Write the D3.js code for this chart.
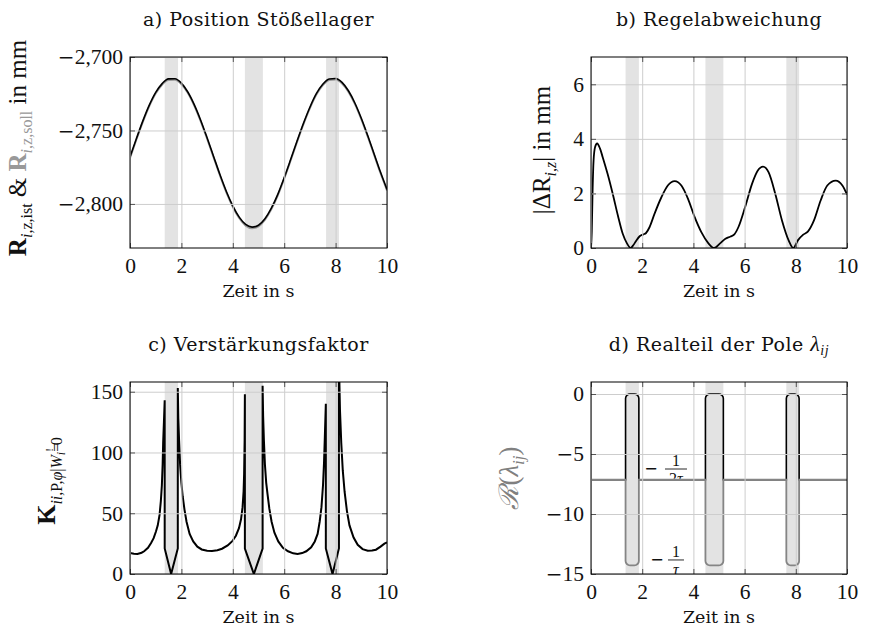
<!DOCTYPE html>
<html>
<head>
<meta charset="utf-8">
<script src="https://cdn.jsdelivr.net/npm/d3@7"></script>
<style>
  body { margin: 0; background: #fff; }
  text { fill: #111; }
</style>
</head>
<body>
<svg></svg>
<script>
// shared time axis and the shaded intervals
const timeTicks = [0, 2, 4, 6, 8, 10];
const bandStart = [1.35, 4.47, 7.63];
const bandEnd = [1.87, 5.17, 8.13];

// a) Position Stößellager (mm)
const posTime = [0, 0.25, 0.5, 0.75, 1, 1.25, 1.5, 1.75, 2, 2.25, 2.5, 2.75, 3, 3.25, 3.5, 3.75, 4, 4.25, 4.5, 4.75,
  5, 5.25, 5.5, 5.75, 6, 6.25, 6.5, 6.75, 7, 7.25, 7.5, 7.75, 8, 8.25, 8.5, 8.75, 9, 9.25, 9.5, 9.75, 10];
const posIst = [-2.7681, -2.7555, -2.7435, -2.7328, -2.7241, -2.7181, -2.7149, -2.7148, -2.7178, -2.7238, -2.7324,
  -2.7430, -2.7550, -2.7675, -2.7800, -2.7915, -2.8013, -2.8090, -2.8140, -2.8158, -2.8145, -2.8101, -2.8029,
  -2.7935, -2.7821, -2.7698, -2.7572, -2.7451, -2.7342, -2.7250, -2.7186, -2.7150, -2.7146, -2.7173, -2.7230,
  -2.7313, -2.7417, -2.7535, -2.7660, -2.7785, -2.7901];
const posSoll = [-2.7689, -2.7563, -2.7443, -2.7336, -2.7249, -2.7189, -2.7157, -2.7156, -2.7186, -2.7246, -2.7332,
  -2.7438, -2.7558, -2.7683, -2.7808, -2.7923, -2.8021, -2.8098, -2.8148, -2.8166, -2.8153, -2.8109, -2.8037,
  -2.7943, -2.7829, -2.7706, -2.7580, -2.7459, -2.7350, -2.7258, -2.7194, -2.7158, -2.7154, -2.7181, -2.7238,
  -2.7321, -2.7425, -2.7543, -2.7668, -2.7793, -2.7909];
const posTicks = [-2.8, -2.75, -2.7];

// b) Regelabweichung |dR| (mm)
const errTime = [0, 0.03, 0.06, 0.1, 0.16, 0.24, 0.35, 0.46, 0.65, 0.85, 1.05, 1.24, 1.41, 1.55, 1.65, 1.76, 1.9,
  2.05, 2.15, 2.29, 2.48, 2.75, 3.0, 3.27, 3.53, 3.79, 4.05, 4.31, 4.58, 4.81, 5.03, 5.25, 5.45, 5.6, 5.76, 6.02,
  6.29, 6.51, 6.72, 6.94, 7.2, 7.46, 7.72, 7.9, 8.08, 8.29, 8.47, 8.71, 8.97, 9.23, 9.56, 9.82, 10];
const errValue = [0, 0.6, 2.0, 3.2, 3.7, 3.83, 3.65, 3.32, 2.71, 1.98, 1.19, 0.52, 0.16, 0, 0.1, 0.26, 0.43,
  0.5, 0.55, 0.77, 1.25, 1.86, 2.29, 2.45, 2.29, 1.8, 1.13, 0.58, 0.18, 0, 0.16, 0.34, 0.42, 0.5, 0.77, 1.5,
  2.35, 2.83, 2.98, 2.77, 1.98, 1.01, 0.28, 0, 0.28, 0.49, 0.6, 1.01, 1.74, 2.29, 2.47, 2.29, 1.96];
const errTicks = [0, 2, 4, 6];

// c) Verstärkungsfaktor
const gainTime = [0, 0.15, 0.29, 0.45, 0.55, 0.7, 0.82, 0.92, 1.01, 1.08, 1.15, 1.2, 1.24, 1.27, 1.29, 1.32, 1.35,
  1.35, 1.6, 1.86, 1.86, 1.88, 1.91, 1.95, 2.0, 2.05, 2.12, 2.2, 2.32, 2.46, 2.62, 2.79, 3.0, 3.19, 3.4, 3.58,
  3.8, 3.98, 4.12, 4.24, 4.32, 4.38, 4.42, 4.44, 4.46, 4.47, 4.47, 4.82, 5.16, 5.16, 5.18, 5.21, 5.25, 5.3,
  5.35, 5.42, 5.51, 5.62, 5.77, 5.95, 6.15, 6.35, 6.52, 6.7, 6.86, 7.05, 7.19, 7.3, 7.38, 7.45, 7.51, 7.55,
  7.58, 7.62, 7.62, 7.88, 8.13, 8.13, 8.17, 8.22, 8.28, 8.35, 8.44, 8.54, 8.7, 8.86, 9.05, 9.25, 9.42, 9.57,
  9.75, 9.9, 10];
const gainValue = [17.3, 16.6, 16.5, 17.5, 18.7, 21.5, 25.5, 29.5, 35, 40, 48.6, 60, 73, 90, 108, 125, 143,
  21, 0, 21, 153, 128, 110, 90, 75, 64, 53, 43, 33, 26.8, 22.5, 20.2, 19.2, 19.0, 19.5, 20.8,
  23.5, 27, 31.5, 37.7, 45, 55, 68, 82, 110, 148, 21, 0, 21, 155, 130, 110, 90, 75,
  66, 54, 43, 34, 26.8, 21.5, 18.7, 17, 16.5, 17.2, 18.7, 22, 26.8, 33, 43, 55, 73, 92,
  112, 140, 21, 0, 21, 175, 135, 108, 85, 67.7, 52, 40, 30, 24, 20.5, 19.2, 19.3, 20,
  22.5, 25, 26];
const gainTicks = [0, 50, 100, 150];

// d) Realteil der Pole
const poleTime = [0,
  1.35, 1.35, 1.363, 1.402, 1.459, 1.526, 1.694, 1.761, 1.818, 1.857, 1.87, 1.87,
  4.47, 4.47, 4.483, 4.522, 4.579, 4.646, 4.994, 5.061, 5.118, 5.157, 5.17, 5.17,
  7.63, 7.63, 7.643, 7.682, 7.739, 7.806, 7.954, 8.021, 8.078, 8.117, 8.13, 8.13,
  10];
const poleUpper = [-7.14,
  -7.14, -0.375, -0.231, -0.11, -0.029, 0, 0, -0.029, -0.11, -0.231, -0.375, -7.14,
  -7.14, -0.375, -0.231, -0.11, -0.029, 0, 0, -0.029, -0.11, -0.231, -0.375, -7.14,
  -7.14, -0.375, -0.231, -0.11, -0.029, 0, 0, -0.029, -0.11, -0.231, -0.375, -7.14,
  -7.14];
const poleLower = [-7.14,
  -7.14, -13.905, -14.049, -14.17, -14.251, -14.28, -14.28, -14.251, -14.17, -14.049, -13.905, -7.14,
  -7.14, -13.905, -14.049, -14.17, -14.251, -14.28, -14.28, -14.251, -14.17, -14.049, -13.905, -7.14,
  -7.14, -13.905, -14.049, -14.17, -14.251, -14.28, -14.28, -14.251, -14.17, -14.049, -13.905, -7.14,
  -7.14];
const poleTicks = [-15, -10, -5, 0];

const width = 870;
const height = 638;
const serif = "'DejaVu Serif', serif";
const mathFont = "'Liberation Serif', serif";

let svg = d3.select('svg').attr('width', width).attr('height', height);
let de = d3.formatLocale({ decimal: ',', thousands: '.', grouping: [3], currency: ['', ' €'], minus: '\u2212' });

let makePanel = (name, box, yDomain) => {
  let x = d3.scaleLinear().domain([0, 10]).range([box.left, box.right]);
  let y = d3.scaleLinear().domain(yDomain).range([box.bottom, box.top]);
  svg.append('clipPath').attr('id', 'clip-' + name)
    .append('rect')
    .attr('x', box.left).attr('y', box.top)
    .attr('width', box.right - box.left).attr('height', box.bottom - box.top);
  let g = svg.append('g');
  let plot = g.append('g').attr('clip-path', 'url(#clip-' + name + ')');
  return { x, y, box, g, plot };
}

let drawBackground = (p, yTicks) => {
  let b = p.box;
  p.plot.selectAll('rect.band')
    .data(bandStart)
    .enter()
    .append('rect')
    .attr('class', 'band')
    .attr('x', (d) => p.x(d))
    .attr('y', b.top)
    .attr('width', (d, i) => p.x(bandEnd[i]) - p.x(d))
    .attr('height', b.bottom - b.top)
    .attr('fill', '#e3e3e3');

  let gx = p.g.append('g')
    .attr('transform', 'translate(0,' + b.bottom + ')')
    .call(d3.axisBottom(p.x).tickValues(timeTicks).tickSize(-(b.bottom - b.top)).tickFormat(''));
  let gy = p.g.append('g')
    .attr('transform', 'translate(' + b.left + ',0)')
    .call(d3.axisLeft(p.y).tickValues(yTicks).tickSize(-(b.right - b.left)).tickFormat(''));
  [gx, gy].forEach(a => {
    a.select('.domain').remove();
    a.selectAll('line').attr('stroke', '#cdcdcd').attr('stroke-width', 1);
  });
}

let drawFrame = (p, yTicks, fmt) => {
  let b = p.box;
  let inner = [
    [d3.axisBottom(p.x).tickValues(timeTicks), 0, b.bottom],
    [d3.axisTop(p.x).tickValues(timeTicks), 0, b.top],
    [d3.axisLeft(p.y).tickValues(yTicks), b.left, 0],
    [d3.axisRight(p.y).tickValues(yTicks), b.right, 0]
  ];
  inner.forEach(([axis, tx, ty]) => {
    let a = p.g.append('g')
      .attr('transform', 'translate(' + tx + ',' + ty + ')')
      .call(axis.tickSize(-5).tickFormat(''));
    a.select('.domain').remove();
    a.selectAll('line').attr('stroke', '#555').attr('stroke-width', 1);
  });

  p.g.append('rect')
    .attr('x', b.left).attr('y', b.top)
    .attr('width', b.right - b.left).attr('height', b.bottom - b.top)
    .attr('fill', 'none').attr('stroke', '#000').attr('stroke-width', 1);

  let xl = p.g.append('g')
    .attr('transform', 'translate(0,' + b.bottom + ')')
    .call(d3.axisBottom(p.x).tickValues(timeTicks).tickSize(0).tickPadding(10));
  let yl = p.g.append('g')
    .attr('transform', 'translate(' + b.left + ',0)')
    .call(d3.axisLeft(p.y).tickValues(yTicks).tickSize(0).tickPadding(7).tickFormat(fmt));
  [xl, yl].forEach(a => {
    a.select('.domain').remove();
    a.selectAll('text')
      .attr('font-family', mathFont)
      .attr('font-size', 21.5)
      .attr('fill', '#111');
  });
  // the TeX minus is long, take it from a font with a wide one
  yl.selectAll('text').each(function () {
    let s = d3.select(this).text();
    if (s.startsWith('\u2212')) {
      d3.select(this).text(null);
      d3.select(this).append('tspan').attr('font-family', "'DejaVu Sans'").attr('font-size', 20).text('\u2212');
      d3.select(this).append('tspan').text(s.slice(1));
    }
  });

  p.g.append('text')
    .attr('x', (b.left + b.right) / 2)
    .attr('y', b.bottom + 49)
    .attr('text-anchor', 'middle')
    .attr('font-family', serif)
    .attr('font-size', 17.5)
    .text('Zeit in s');
}

let addTitle = (p, parts) => {
  let t = p.g.append('text')
    .attr('x', (p.box.left + p.box.right) / 2)
    .attr('y', p.box.top - 31)
    .attr('text-anchor', 'middle')
    .attr('font-family', serif)
    .attr('font-size', 19)
    .attr('letter-spacing', 0.5);
  parts.forEach(s => {
    let ts = t.append('tspan').text(s.text);
    if (s.sub) ts.attr('font-size', 14).attr('dy', 4).attr('font-style', 'italic').attr('font-family', mathFont);
    if (s.italic) ts.attr('font-style', 'italic').attr('font-family', mathFont).attr('font-size', 22);
  });
}

let addYLabel = (x, y, size, parts) => {
  let t = svg.append('text')
    .attr('transform', 'translate(' + x + ',' + y + ') rotate(-90)')
    .attr('text-anchor', 'middle')
    .attr('font-family', mathFont)
    .attr('font-size', size);
  parts.forEach(s => {
    let ts = t.append('tspan').text(s.text);
    if (s.size) ts.attr('font-size', s.size);
    if (s.dy) ts.attr('dy', s.dy);
    if (s.dx) ts.attr('dx', s.dx);
    if (s.bold) ts.attr('font-weight', 'bold');
    if (s.italic) ts.attr('font-style', 'italic');
    if (s.color) ts.attr('fill', s.color);
  });
}

// panel a
let pa = makePanel('a', { left: 130, right: 387, top: 57, bottom: 248 }, [-2.83, -2.7]);
drawBackground(pa, posTicks);
let lineA = (vals) => d3.line()
  .x((d, i) => pa.x(posTime[i]))
  .y((d) => pa.y(d))
  .curve(d3.curveMonotoneX)(vals);
pa.plot.append('path').attr('d', lineA(posSoll)).attr('fill', 'none').attr('stroke', '#999').attr('stroke-width', 1.8);
pa.plot.append('path').attr('d', lineA(posIst)).attr('fill', 'none').attr('stroke', '#000').attr('stroke-width', 1.6);
drawFrame(pa, posTicks, de.format('.3f'));
addTitle(pa, [{ text: 'a) Position Stößellager' }]);
addYLabel(26, 148, 25, [
  { text: 'R', bold: true },
  { text: 'i', size: 16, dy: 6, italic: true },
  { text: ',z,ist', size: 16 },
  { text: ' & ', dy: -6 },
  { text: 'R', bold: true, color: '#999' },
  { text: 'i', size: 16, dy: 6, italic: true, color: '#999' },
  { text: ',z,soll', size: 16, color: '#999' },
  { text: ' in mm', dy: -6 }
]);

// panel b
let pb = makePanel('b', { left: 591, right: 847, top: 57, bottom: 248 }, [0, 7]);
drawBackground(pb, errTicks);
pb.plot.append('path')
  .attr('d', d3.line()
    .x((d, i) => pb.x(errTime[i]))
    .y((d) => pb.y(d))
    .curve(d3.curveMonotoneX)(errValue))
  .attr('fill', 'none').attr('stroke', '#000').attr('stroke-width', 1.8);
drawFrame(pb, errTicks, de.format('d'));
addTitle(pb, [{ text: 'b) Regelabweichung' }]);
addYLabel(550, 150, 25, [
  { text: '|ΔR' },
  { text: 'i,z', size: 16, dy: 6, italic: true },
  { text: '| in mm', dy: -6 }
]);

// panel c
let pc = makePanel('c', { left: 130, right: 387, top: 382, bottom: 574 }, [0, 158]);
drawBackground(pc, gainTicks);
pc.plot.append('path')
  .attr('d', d3.line()
    .x((d, i) => pc.x(gainTime[i]))
    .y((d) => pc.y(d))(gainValue))
  .attr('fill', 'none').attr('stroke', '#000').attr('stroke-width', 2).attr('stroke-linejoin', 'miter');
drawFrame(pc, gainTicks, de.format('d'));
addTitle(pc, [{ text: 'c) Verstärkungsfaktor' }]);
addYLabel(55, 481, 26, [
  { text: 'K', bold: true },
  { text: 'ii', size: 16, dy: 7, italic: true },
  { text: ',P,', size: 16 },
  { text: 'φ', size: 16, italic: true },
  { text: '|', size: 16 },
  { text: 'W', size: 16, italic: true },
  { text: 'i', size: 12, dy: 3, italic: true },
  { text: '=', size: 16, dy: -3 },
  { text: '!', size: 11, dx: -9, dy: -9 },
  { text: '0', size: 16, dx: 3, dy: 9 }
]);

// panel d
let pd = makePanel('d', { left: 591, right: 847, top: 382, bottom: 574 }, [-15, 1]);
drawBackground(pd, poleTicks);
pd.plot.append('path')
  .attr('d', d3.area()
    .x((d, i) => pd.x(poleTime[i]))
    .y0((d, i) => pd.y(poleLower[i]))
    .y1((d) => pd.y(d))(poleUpper))
  .attr('fill', '#e3e3e3');

// fraction labels -1/(2tau) and -1/tau
let frac = (tx, ty, num, den, half, minusOff, clipBelow) => {
  let fx = pd.x(tx), fy = pd.y(ty);
  let fg = pd.plot.append('g').attr('font-family', mathFont).attr('font-size', 16);
  fg.append('text').attr('x', fx + minusOff).attr('y', fy + 5).attr('text-anchor', 'middle')
    .attr('font-family', "'DejaVu Sans'").attr('font-size', 16).text('\u2212');
  fg.append('text').attr('x', fx).attr('y', fy - 3).attr('text-anchor', 'middle').text(num);
  fg.append('line').attr('x1', fx - half).attr('x2', fx + half).attr('y1', fy).attr('y2', fy)
    .attr('stroke', '#111').attr('stroke-width', 0.9);
  fg.append('text').attr('x', fx).attr('y', fy + 15).attr('text-anchor', 'middle')
    .attr('clip-path', clipBelow ? 'url(#clip-frac)' : null).html(den);
}
svg.append('clipPath').attr('id', 'clip-frac')
  .append('rect').attr('x', 0).attr('y', 0).attr('width', width).attr('height', pd.y(-7.14) - 1);
frac(3.32, -6.25, '1', '2<tspan font-style="italic">τ</tspan>', 11, -25, true);
frac(3.32, -13.83, '1', '<tspan font-style="italic">τ</tspan>', 8, -19, false);

let lineD = (vals) => d3.line()
  .x((d, i) => pd.x(poleTime[i]))
  .y((d) => pd.y(d))(vals);
pd.plot.append('path').attr('d', lineD(poleUpper)).attr('fill', 'none').attr('stroke', '#000').attr('stroke-width', 1.6);
pd.plot.append('path').attr('d', lineD(poleLower)).attr('fill', 'none').attr('stroke', '#858585').attr('stroke-width', 1.8);
drawFrame(pd, poleTicks, de.format('d'));
addTitle(pd, [{ text: 'd) Realteil der Pole ' }, { text: 'λ', italic: true }, { text: 'ij', sub: true }]);
addYLabel(518, 478, 27, [
  { text: 'ℛ', italic: true, color: '#808080' },
  { text: '(', color: '#808080' },
  { text: 'λ', italic: true, color: '#808080' },
  { text: 'ij', size: 17, dy: 6, italic: true, color: '#808080' },
  { text: ')', dy: -6, color: '#808080' }
]);
</script>
</body>
</html>
